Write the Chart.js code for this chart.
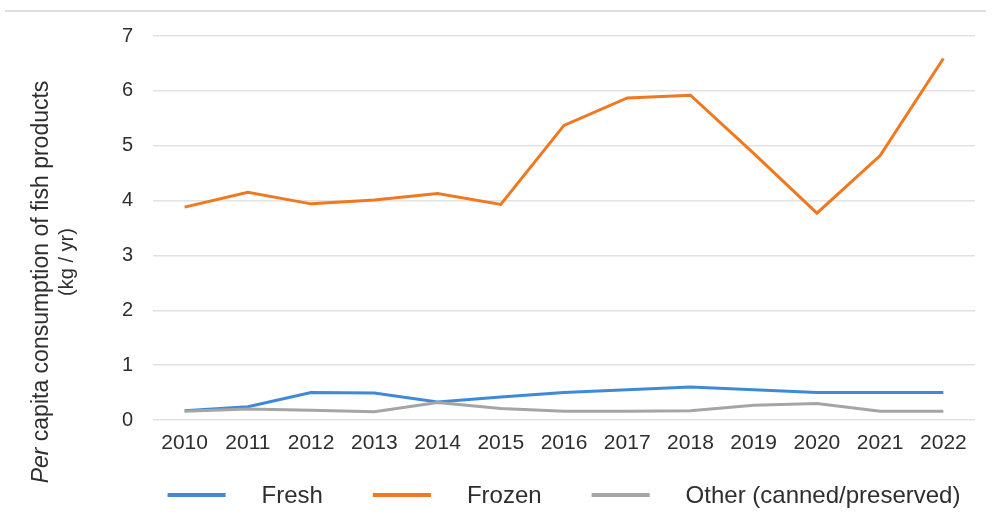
<!DOCTYPE html>
<html>
<head>
<meta charset="utf-8">
<title>Per capita consumption of fish products</title>
<script src="https://cdn.jsdelivr.net/npm/chart.js@4/dist/chart.umd.min.js"></script>
<style>
  html, body { margin: 0; padding: 0; background: #ffffff; }
  #wrap { position: relative; width: 994px; height: 519px; }
</style>
</head>
<body>
<div id="wrap"><canvas id="chart"></canvas></div>
<script>
// Years on the horizontal axis
const years = ['2010', '2011', '2012', '2013', '2014', '2015', '2016',
               '2017', '2018', '2019', '2020', '2021', '2022'];

// Per capita consumption, kg per year
const fresh  = [0.17, 0.24, 0.50, 0.49, 0.33, 0.42, 0.50, 0.55, 0.60, 0.55, 0.50, 0.50, 0.50];
const frozen = [3.88, 4.15, 3.94, 4.01, 4.13, 3.93, 5.37, 5.87, 5.92, 4.86, 3.77, 4.82, 6.59];
const other  = [0.16, 0.20, 0.18, 0.15, 0.32, 0.21, 0.16, 0.16, 0.17, 0.27, 0.30, 0.16, 0.16];

const seriesNames = ['Fresh', 'Frozen', 'Other (canned/preserved)'];
const axisTitle = ['Per', ' capita consumption of fish products'];
const axisUnit = '(kg / yr)';

const COLORS = ['#3f8ad8', '#f0781f', '#a5a5a5'];
const TEXT = '#2e2e2e';
const FONT = '"Liberation Sans", Arial, Helvetica, sans-serif';

// Thin rule across the top of the figure
const topRule = {
  id: 'topRule',
  beforeDraw(chart) {
    const ctx = chart.ctx;
    ctx.save();
    ctx.strokeStyle = '#dedede';
    ctx.lineWidth = 2;
    ctx.beginPath();
    ctx.moveTo(5, 11);
    ctx.lineTo(986, 11);
    ctx.stroke();
    ctx.restore();
  }
};

// Rotated two-line title for the value axis, with "Per" set in italics
const valueAxisTitle = {
  id: 'valueAxisTitle',
  afterDraw(chart) {
    const ctx = chart.ctx;
    ctx.save();
    ctx.fillStyle = TEXT;
    ctx.textBaseline = 'middle';

    // main line
    ctx.save();
    ctx.translate(42, 282);
    ctx.rotate(-Math.PI / 2);
    const italic = 'italic 23px ' + FONT;
    const normal = '23px ' + FONT;
    ctx.font = italic;
    const w1 = ctx.measureText(axisTitle[0]).width;
    ctx.font = normal;
    const w2 = ctx.measureText(axisTitle[1]).width;
    const x = -(w1 + w2) / 2;
    ctx.textAlign = 'left';
    ctx.font = italic;
    ctx.fillText(axisTitle[0], x, 0);
    ctx.font = normal;
    ctx.fillText(axisTitle[1], x + w1, 0);
    ctx.restore();

    // unit line
    ctx.save();
    ctx.translate(67, 262);
    ctx.rotate(-Math.PI / 2);
    ctx.font = '20px ' + FONT;
    ctx.textAlign = 'center';
    ctx.fillText(axisUnit, 0, 0);
    ctx.restore();

    ctx.restore();
  }
};

// Legend row: a short line sample followed by the series name
const lineLegend = {
  id: 'lineLegend',
  afterDraw(chart) {
    const ctx = chart.ctx;
    const area = chart.chartArea;
    const sample = 58, gap = 36, spacing = 50, y = 495;
    ctx.save();
    ctx.font = '24px ' + FONT;
    const items = chart.data.datasets.map(ds => ({
      label: ds.label,
      color: ds.borderColor,
      w: ctx.measureText(ds.label).width
    }));
    const total = items.reduce((s, it) => s + sample + gap + it.w, 0) + spacing * (items.length - 1);
    let x = (area.left + area.right) / 2 - total / 2;
    ctx.textBaseline = 'middle';
    ctx.textAlign = 'left';
    items.forEach(it => {
      ctx.strokeStyle = it.color;
      ctx.lineWidth = 4;
      ctx.beginPath();
      ctx.moveTo(x, y);
      ctx.lineTo(x + sample, y);
      ctx.stroke();
      ctx.fillStyle = TEXT;
      ctx.fillText(it.label, x + sample + gap, y + 1);
      x += sample + gap + it.w + spacing;
    });
    ctx.restore();
  }
};

const seriesValues = [fresh, frozen, other];
const datasets = seriesValues.map((vals, i) => ({
  label: seriesNames[i],
  data: vals,
  borderColor: COLORS[i],
  backgroundColor: COLORS[i],
  borderWidth: 3,
  pointRadius: 0,
  pointHoverRadius: 0,
  tension: 0,
  fill: false,
  order: 3 - i
}));

new Chart(document.getElementById('chart'), {
  type: 'line',
  data: { labels: years, datasets },
  options: {
    responsive: true,
    maintainAspectRatio: false,
    animation: false,
    layout: { padding: { top: 36, right: 19, bottom: 50, left: 0 } },
    plugins: {
      legend: { display: false },
      tooltip: { enabled: false }
    },
    scales: {
      x: {
        offset: true,
        grid: { display: false },
        border: { display: false },
        ticks: {
          color: TEXT,
          font: { family: FONT, size: 21 },
          padding: 3,
          maxRotation: 0,
          autoSkip: false
        },
        afterFit(scale) { scale.height = 49; }
      },
      y: {
        min: 0,
        max: 7,
        border: { display: false },
        grid: { color: '#e2e2e2', lineWidth: 1.5, drawTicks: false },
        ticks: {
          stepSize: 1,
          color: TEXT,
          font: { family: FONT, size: 20 },
          padding: 20
        },
        afterFit(scale) { scale.width = 153; }
      }
    }
  },
  plugins: [topRule, valueAxisTitle, lineLegend]
});
</script>
</body>
</html>
